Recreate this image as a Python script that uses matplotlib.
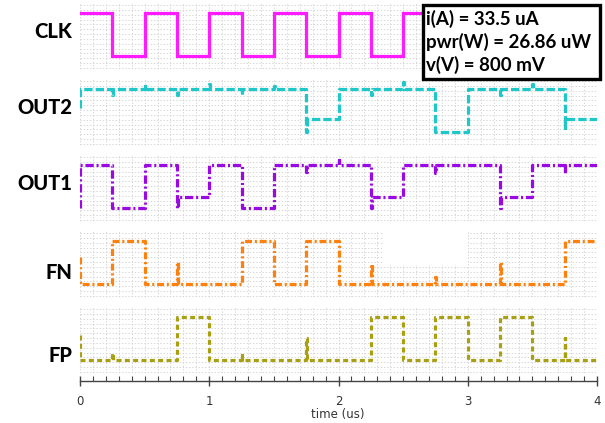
import numpy as np
import matplotlib
matplotlib.use("Agg")
import matplotlib.pyplot as plt
from matplotlib.patches import Rectangle
from matplotlib.ticker import MultipleLocator

plt.rcParams["lines.scale_dashes"] = False

# ---------------- data (volts vs. microseconds) ----------------
signal_names = ["CLK", "OUT2", "OUT1", "FN", "FP"]

clk_t = [0, 0.25, 0.5, 0.75, 1.0, 1.25, 1.5, 1.75, 2.0, 2.25, 2.5, 4.0]
clk_v = [0.8, 0.0, 0.8, 0.0, 0.8, 0.0, 0.8, 0.0, 0.8, 0.0, 0.8, 0.8]
clk_glitch_t = []
clk_glitch_v = []

out2_t = [0, 0, 1.75, 2.0, 2.75, 3.0, 3.75, 4.0]
out2_v = [0.45, 0.8, 0.25, 0.8, 0.0, 0.8, 0.25, 0.25]
out2_glitch_t = [0.25, 0.5, 0.75, 1.0, 1.25, 1.5, 1.75, 2.25, 2.5, 3.25, 3.5, 3.75]
out2_glitch_v = [0.69, 0.86, 0.69, 0.9, 0.69, 0.86, 0.0, 0.69, 0.93, 0.69, 0.9, 0.07]

out1_t = [0, 0, 0.25, 0.5, 0.75, 1.0, 1.25, 1.5, 2.25, 2.5, 3.25, 3.5, 4.0]
out1_v = [0.0, 0.8, 0.0, 0.8, 0.2, 0.8, 0.0, 0.8, 0.2, 0.8, 0.2, 0.8, 0.8]
out1_glitch_t = [0.75, 1.75, 2.0, 2.25, 2.75, 3.25, 3.75]
out1_glitch_v = [0.0, 0.68, 0.9, 0.0, 0.65, 0.0, 0.66]

fn_t = [0, 0, 0.25, 0.5, 1.25, 1.5, 1.75, 2.0, 3.75, 4.0]
fn_v = [0.5, 0.0, 0.8, 0.0, 0.8, 0.0, 0.8, 0.0, 0.8, 0.8]
fn_glitch_t = [0.75, 2.25, 2.75, 3.25]
fn_glitch_v = [0.41, 0.37, 0.13, 0.41]

fp_t = [0, 0, 0.75, 1.0, 2.25, 2.5, 2.75, 3.0, 3.25, 3.5, 4.0]
fp_v = [0.46, 0.0, 0.8, 0.0, 0.8, 0.0, 0.8, 0.0, 0.8, 0.0, 0.0]
fp_glitch_t = [0.25, 1.25, 1.75, 3.75]
fp_glitch_v = [0.13, 0.1, 0.42, 0.42]

legend_lines = ["i(A) = 33.5 uA", "pwr(W) = 26.86 uW", "v(V) = 800 mV"]
x_ticks = [0, 1, 2, 3, 4]
x_label = "time (us)"

# ---------------- style ----------------
colors = ["#ff1aff", "#1ec8c8", "#9a08e4", "#ff800c", "#a8a012"]
dashes = [None, (6, 2.2), (6, 2, 1.5, 2), (5, 2, 1.5, 2), (3.6, 2.4)]

series = [
    (clk_t, clk_v, clk_glitch_t, clk_glitch_v),
    (out2_t, out2_v, out2_glitch_t, out2_glitch_v),
    (out1_t, out1_v, out1_glitch_t, out1_glitch_v),
    (fn_t, fn_v, fn_glitch_t, fn_glitch_v),
    (fp_t, fp_v, fp_glitch_t, fp_glitch_v),
]


def build(ts, vs, gts, gvs, dt=0.006):
    ts = np.asarray(ts, float)
    vs = np.asarray(vs, float)
    pts = list(zip(ts, vs))
    for gt, gv in zip(gts, gvs):
        idx = np.searchsorted(ts, gt, side="right") - 1
        base = vs[idx]
        pts.append((gt + 1e-9, gv))
        pts.append((gt + dt, base))
    pts.sort(key=lambda p: p[0])
    x, y = zip(*pts)
    return np.array(x), np.array(y)


W, H = 605, 423
fig = plt.figure(figsize=(W / 100, H / 100), dpi=100)
left = 80 / W
width = 517 / W
tops = [3, 79, 155, 231, 307]
ph = 66
label_y = [32, 108, 183, 272, 355]
YLO, YHI = -0.24, 0.99

axes = []
for i, name in enumerate(signal_names):
    ax = fig.add_axes([left, 1 - (tops[i] + ph) / H, width, ph / H])
    ax.set_xlim(0, 4)
    ax.set_ylim(YLO, YHI)
    ax.xaxis.set_major_locator(MultipleLocator(1))
    ax.xaxis.set_minor_locator(MultipleLocator(0.1))
    ax.set_yticks(np.arange(YLO + 0.02, YHI, 0.09))
    ax.grid(True, which="both", ls=(0, (1, 1.3)), color="#cdcdcd", lw=0.55)
    ax.tick_params(which="both", length=0, labelbottom=False, labelleft=False)
    for s in ax.spines.values():
        s.set_visible(False)
    ts, vs, gts, gvs = series[i]
    x, y = build(ts, vs, gts, gvs)
    line, = ax.plot(x, y, drawstyle="steps-post", color=colors[i], lw=2.3,
                    solid_joinstyle="miter", dash_capstyle="butt", zorder=3)
    if dashes[i] is not None:
        line.set_dashes(dashes[i])
    fig.text(72 / W, 1 - label_y[i] / H, name, ha="right", va="center",
             fontsize=14.5, fontweight="black", family="Lato", color="black")
    axes.append(ax)

# white patch in FN panel
axes[3].add_patch(Rectangle((2.35, 0.356), 0.65, YHI - 0.356, facecolor="white",
                            edgecolor="none", zorder=2))

# bottom time axis
axb = axes[-1]
axb.spines["bottom"].set_visible(True)
axb.spines["bottom"].set_position(("outward", 6))
axb.spines["bottom"].set_color("#444444")
axb.spines["bottom"].set_linewidth(1.0)
axb.set_xticks(x_ticks)
axb.set_xticklabels([str(v) for v in x_ticks])
axb.tick_params(axis="x", which="major", direction="inout", length=7, width=1,
                color="#444444", labelbottom=True, labelsize=8.5,
                labelcolor="#333333", pad=6)
axb.tick_params(axis="x", which="minor", direction="in", length=3.5, width=0.8,
                color="#444444")
fig.text(338 / W, 1 - 414 / H, x_label, ha="center", va="center",
         fontsize=8.5, color="#333333")

# info box
box = Rectangle((423 / W, 1 - 79 / H), 177 / W, 74 / H, transform=fig.transFigure,
                facecolor="white", edgecolor="black", lw=2.4, zorder=10)
fig.add_artist(box)
for k, txt in enumerate(legend_lines):
    t = fig.text(426 / W, 1 - (19 + 23 * k) / H, txt, ha="left", va="center",
                 fontsize=13.5, fontweight="bold", family="Lato", color="black",
                 zorder=11)

fig.savefig("out.png", dpi=100, facecolor="white")
